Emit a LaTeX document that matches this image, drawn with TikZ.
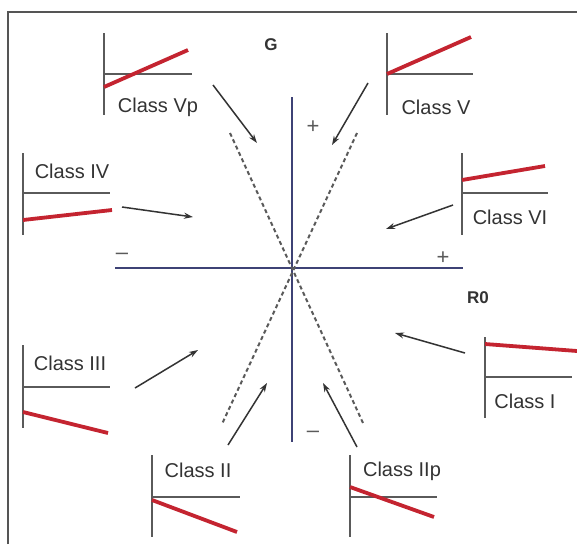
\documentclass[tikz,border=0pt]{standalone}
\usepackage{fontspec}
\setmainfont{Liberation Sans}
\usetikzlibrary{arrows.meta}
\definecolor{axisblue}{HTML}{3E4275}
\definecolor{txtgray}{HTML}{333333}
\definecolor{minigray}{HTML}{5A5A5A}
\definecolor{redline}{HTML}{C42430}
\definecolor{framegray}{HTML}{555555}
\tikzset{
  frameline/.style={draw=framegray,line width=2pt},
  mainaxis/.style={draw=axisblue,line width=2.6pt},
  dashline/.style={draw=minigray,line width=2pt,dash pattern=on 4pt off 3pt},
  miniaxis/.style={draw=minigray,line width=1.9pt},
  trend/.style={draw=redline,line width=3.8pt},
  cls/.style={text=txtgray,font=\fontsize{20}{24}\selectfont,inner sep=0pt},
  biglab/.style={text=txtgray,font=\fontsize{17}{20}\selectfont\bfseries,inner sep=0pt},
  sign/.style={text=minigray,font=\fontsize{22}{24}\selectfont,inner sep=0pt},
  pointer/.style={draw=txtgray,line width=1.5pt,-{Stealth[length=9pt,width=6pt]}}
}
\begin{document}
\begin{tikzpicture}[x=1pt,y=-1pt]
\useasboundingbox (0,0) rectangle (577,544);
\fill[white] (0,0) rectangle (577,544);
% frame
\draw[frameline] (8,544) -- (8,12) -- (577,12);
% main axes
\coordinate (ctr) at (292,268);
\coordinate (vtop) at (292,97);
\coordinate (vbot) at (292,442);
\coordinate (hleft) at (115,268);
\coordinate (hright) at (463,268);
\draw[mainaxis] (vtop) -- (vbot);
\draw[mainaxis] (hleft) -- (hright);
% dashed lines
\coordinate (d1a) at (230,133);
\coordinate (d1b) at (363,423);
\coordinate (d2a) at (357,133);
\coordinate (d2b) at (222,424);
\draw[dashline] (d1a) -- (d1b);
\draw[dashline] (d2a) -- (d2b);
% signs
\node[sign] (pv) at (313,127) {+};
\node[sign] (ph) at (443,258) {+};
\node[sign] (mh) at (122,256) {\textendash};
\node[sign] (mv) at (313,434) {\textendash};
% axis labels
\node[biglab] (G) at (271,45) {G};
\node[biglab] (R0) at (478,298) {R0};

% Class Vp
\draw[miniaxis] (104,33) -- (104,115);
\draw[miniaxis] (104,74) -- (192,74);
\draw[trend] (104,87) -- (188,50);
\node[cls] (Vp) at (158,107) {Class Vp};
\coordinate (aVp1) at (213,85);
\coordinate (aVp2) at (257,143);
\draw[pointer] (aVp1) -- (aVp2);

% Class V
\draw[miniaxis] (387,33) -- (387,115);
\draw[miniaxis] (387,74) -- (473,74);
\draw[trend] (387,74) -- (471,37);
\node[cls] (V) at (436,107) {Class V};
\coordinate (aV1) at (368,83);
\coordinate (aV2) at (332,145);
\draw[pointer] (aV1) -- (aV2);

% Class IV
\draw[miniaxis] (23,153) -- (23,235);
\draw[miniaxis] (23,193) -- (110,193);
\draw[trend] (23,220) -- (112,210);
\node[cls] (IV) at (72,171) {Class IV};
\coordinate (aIV1) at (122,207);
\coordinate (aIV2) at (193,217);
\draw[pointer] (aIV1) -- (aIV2);

% Class VI
\draw[miniaxis] (462,153) -- (462,235);
\draw[miniaxis] (462,193) -- (548,193);
\draw[trend] (462,180) -- (545,166);
\node[cls] (VI) at (510,217) {Class VI};
\coordinate (aVI1) at (453,205);
\coordinate (aVI2) at (386,229);
\draw[pointer] (aVI1) -- (aVI2);

% Class III
\draw[miniaxis] (23,345) -- (23,428);
\draw[miniaxis] (23,387) -- (110,387);
\draw[trend] (23,412) -- (108,433);
\node[cls] (III) at (70,363) {Class III};
\coordinate (aIII1) at (135,388);
\coordinate (aIII2) at (198,350);
\draw[pointer] (aIII1) -- (aIII2);

% Class I
\draw[miniaxis] (485,337) -- (485,418);
\draw[miniaxis] (485,377) -- (572,377);
\draw[trend] (485,344) -- (577,351);
\node[cls] (I) at (525,401) {Class I};
\coordinate (aI1) at (465,353);
\coordinate (aI2) at (395,333);
\draw[pointer] (aI1) -- (aI2);

% Class II
\draw[miniaxis] (152,455) -- (152,537);
\draw[miniaxis] (152,497) -- (240,497);
\draw[trend] (152,500) -- (237,532);
\node[cls] (II) at (198,470) {Class II};
\coordinate (aII1) at (228,445);
\coordinate (aII2) at (267,383);
\draw[pointer] (aII1) -- (aII2);

% Class IIp
\draw[miniaxis] (350,455) -- (350,537);
\draw[miniaxis] (350,497) -- (437,497);
\draw[trend] (350,487) -- (434,517);
\node[cls] (IIp) at (402,471) {Class IIp};
\coordinate (aIIp1) at (357,447);
\coordinate (aIIp2) at (323,383);
\draw[pointer] (aIIp1) -- (aIIp2);
\end{tikzpicture}
\end{document}
